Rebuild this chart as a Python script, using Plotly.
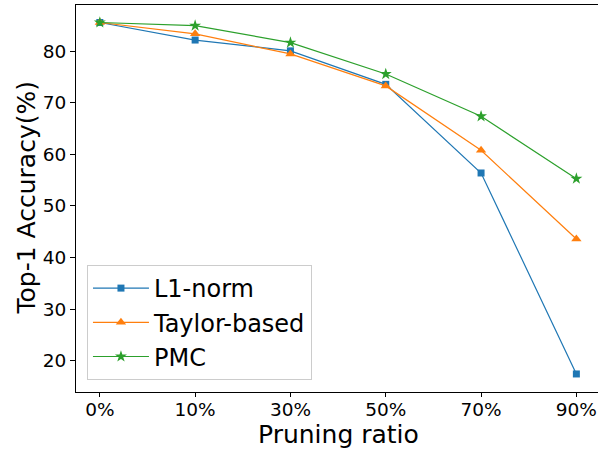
import plotly.graph_objects as go

ratios = ["0%", "10%", "30%", "50%", "70%", "90%"]
l1_norm = [85.6, 82.2, 80.1, 73.6, 56.4, 17.4]
taylor = [85.6, 83.4, 79.5, 73.3, 60.8, 43.6]
pmc = [85.6, 85.0, 81.7, 75.6, 67.4, 55.3]

series = [
    ("L1-norm", l1_norm, "#1f77b4", "square", 7),
    ("Taylor-based", taylor, "#ff7f0e", "triangle-up", 9),
    ("PMC", pmc, "#2ca02c", "star", 9),
]

xs = list(range(len(ratios)))
fig = go.Figure()
for i, (name, vals, color, sym, size) in enumerate(series):
    fig.add_trace(go.Scatter(
        x=xs, y=vals, name=name, mode="lines+markers",
        line=dict(color=color, width=1.2),
        marker=dict(symbol=sym, size=size, color=color, line=dict(width=0)),
        legendgroup=name,
    ))

font = "DejaVu Sans, sans-serif"
fig.update_layout(
    width=598, height=449,
    margin=dict(l=76, r=0, t=5, b=57, autoexpand=False),
    plot_bgcolor="white", paper_bgcolor="white",
    font=dict(family=font, color="black"),
    showlegend=True,
    legend=dict(
        x=0.021, y=0.031, xanchor="left", yanchor="bottom",
        bgcolor="rgba(255,255,255,0.8)", bordercolor="#cccccc", borderwidth=1,
        font=dict(size=24, family=font), tracegroupgap=0, itemwidth=56,
    ),
    xaxis=dict(
        range=[-0.25, 5.227], tickmode="array", tickvals=xs, ticktext=ratios,
        showgrid=False, zeroline=False, showline=True, linecolor="black", linewidth=1.2,
        mirror=True, ticks="outside", ticklen=4, tickcolor="black",
        tickfont=dict(size=18.5), automargin=False, ticklabelstandoff=-3,
    ),
    yaxis=dict(
        range=[13.9, 89.0], tickmode="array", tickvals=[20, 30, 40, 50, 60, 70, 80],
        showgrid=False, zeroline=False, showline=True, linecolor="black", linewidth=1.2,
        ticks="outside", ticklen=5, tickcolor="black",
        tickfont=dict(size=18.5), automargin=False,
    ),
    annotations=[
        dict(text="Pruning ratio", xref="paper", yref="paper", x=(338 - 76) / 522,
             y=(392 - 434) / 387, xanchor="center", yanchor="middle",
             showarrow=False, font=dict(size=25)),
        dict(text="Top-1 Accuracy(%)", xref="paper", yref="paper", x=(26 - 76) / 522,
             y=0.5, xanchor="center", yanchor="middle", textangle=-90,
             showarrow=False, font=dict(size=25)),
    ],
)
fig.write_html("out.html", config={"displayModeBar": False},
               post_script="document.body.style.margin='0';document.body.style.overflow='hidden';")
